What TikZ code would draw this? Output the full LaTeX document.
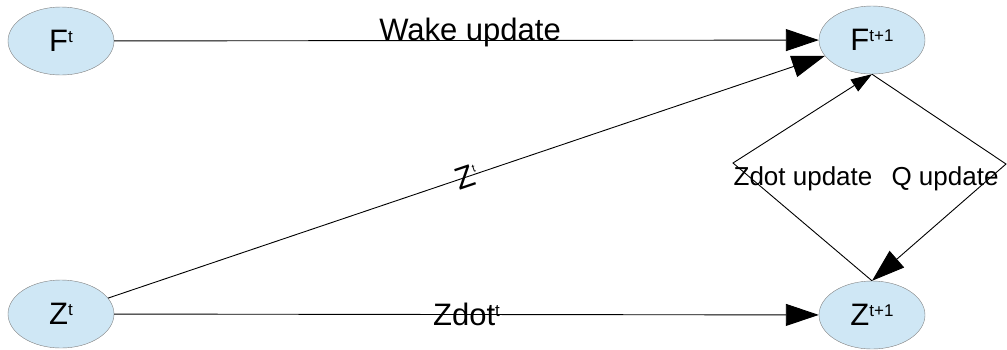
\documentclass[tikz,border=0pt]{standalone}
\usepackage{fontspec}
\setmainfont{Liberation Sans}
\usetikzlibrary{arrows.meta, positioning, shapes.geometric}
\newcommand{\sups}[1]{\raisebox{9pt}{\fontsize{17}{17}\selectfont #1}}
\newcommand{\tinysup}[1]{\raisebox{13pt}{\fontsize{11}{11}\selectfont #1}}
\definecolor{cellblue}{HTML}{CFE7F5}

\begin{document}
\begin{tikzpicture}[x=1pt, y=-1pt]
    \tikzset{
        state/.style={ellipse, draw=gray, fill=cellblue, minimum width=106pt,
                      minimum height=68pt, inner sep=0pt,
                      font=\fontsize{31}{31}\selectfont},
        bigtip/.style={line width=0.9pt, -{Triangle[length=33pt, width=22pt]}},
        smalltip/.style={line width=0.9pt, -{Triangle[length=21pt, width=14pt]}},
        lbl/.style={font=\fontsize{31}{31}\selectfont, inner sep=0pt},
        updlbl/.style={font=\fontsize{26}{26}\selectfont, inner sep=0pt}
    }
    \useasboundingbox (0,0) rectangle (1007,349);

    % States
    \node[state] (Ft)  at (61,41)   {F\sups{t}};
    \node[state] (Ft1) at (872,40)  {F\sups{t+1}};
    \node[state] (Zt)  at (61,314)  {Z\sups{t}};
    \node[state] (Zt1) at (872,315) {Z\sups{t+1}};

    % Corners of the update loop
    \coordinate (left)  at (733,163);
    \coordinate (right) at (1006,164);

    % Transitions
    \draw[bigtip] (Ft) -- node[lbl, anchor=base, pos=0.505] {Wake update} (Ft1);
    \draw[bigtip] (Zt) -- node[lbl, sloped, midway] {Z\tinysup{t}} (Ft1);
    \draw[bigtip] (Zt) -- node[lbl, midway] {Zdot\sups{t}} (Zt1);
    \draw[smalltip] (Zt1.north) -- (left) -- (Ft1.south);
    \draw[bigtip] (Ft1.south) -- (right) -- (Zt1.north);

    % Loop labels
    \node[updlbl] (zdotupd) at (803,179) {Zdot update};
    \node[updlbl] (qupd)    at (945,179) {Q update};
\end{tikzpicture}
\end{document}
